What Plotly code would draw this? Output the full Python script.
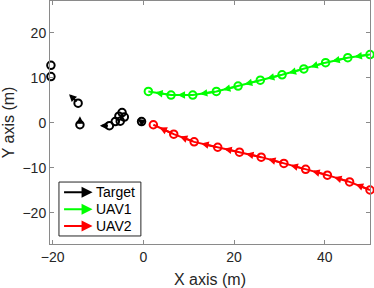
import plotly.graph_objects as go

# ---- data ----
target_x = [-20.4, -20.4, -14.4, -14.0, -7.5, -6.2, -5.4, -4.7, -4.2, -5.1, -0.4]
target_y = [12.8, 10.3, 4.4, -0.4, -0.6, 0.3, 1.5, 2.3, 1.3, 0.4, 0.3]
target_u = [0, 0, -2.0, 0, -2.1, 0, 0, 0, 0, 0, -0.9]
target_v = [0, 0, 2.0, 1.9, 0, 0, 0, 0, 0, 0, 0.6]

uav1_x = [50, 45.1, 40.2, 35.4, 30.6, 25.8, 20.9, 16.1, 10.9, 6.1, 1.1]
uav1_y = [15.2, 14.5, 13.4, 12.0, 10.7, 9.5, 8.2, 7.0, 6.2, 6.2, 7.0]

uav2_x = [50, 45.5, 40.6, 35.8, 31.0, 26.0, 21.2, 16.4, 11.2, 6.7, 2.2]
uav2_y = [-14.9, -13.1, -11.6, -10.3, -9.0, -7.6, -6.5, -5.4, -4.2, -2.5, -0.4]

legend_names = ["Target", "UAV1", "UAV2"]
colors = ["#000000", "#00ff00", "#ff0000"]

x_ticks = [-20, 0, 20, 40]
y_ticks = [-20, -10, 0, 10, 20]

FONT = "Liberation Sans, Arial, Helvetica, sans-serif"
ARROW_FRAC = 0.7

fig = go.Figure()
annotations = []

def add_arrow(x0, y0, x1, y1, color):
    annotations.append(dict(
        x=x1, y=y1, ax=x0, ay=y0, xref="x", yref="y", axref="x", ayref="y",
        text="", showarrow=True, arrowhead=2, arrowsize=0.75, arrowwidth=2,
        arrowcolor=color, standoff=0, startstandoff=0))

# UAV paths (line + open circles) and arrows toward next waypoint
for xs, ys, c in [(uav1_x, uav1_y, colors[1]), (uav2_x, uav2_y, colors[2])]:
    fig.add_trace(go.Scatter(x=xs, y=ys, mode="lines+markers",
                             line=dict(color=c, width=2),
                             marker=dict(symbol="circle-open", size=7.5, color=c,
                                         line=dict(width=2, color=c)),
                             showlegend=False, cliponaxis=False, hoverinfo="skip"))
    for i in range(len(xs) - 1):
        x1 = xs[i] + ARROW_FRAC * (xs[i + 1] - xs[i])
        y1 = ys[i] + ARROW_FRAC * (ys[i + 1] - ys[i])
        add_arrow(xs[i], ys[i], x1, y1, c)

# Target positions with velocity arrows
fig.add_trace(go.Scatter(x=target_x, y=target_y, mode="markers",
                         marker=dict(symbol="circle-open", size=7.5, color="#000",
                                     line=dict(width=2, color="#000")),
                         showlegend=False, cliponaxis=False, hoverinfo="skip"))
for x, y, u, v in zip(target_x, target_y, target_u, target_v):
    if u != 0 or v != 0:
        add_arrow(x, y, x + u, y + v, "#000000")

# manual legend with arrows
leg_y = [0.213, 0.143, 0.074]
for name, c, ly in zip(legend_names, colors, leg_y):
    annotations.append(dict(
        x=0.133, y=ly, xref="paper", yref="paper", axref="pixel", ayref="pixel",
        ax=-30, ay=0, text="", showarrow=True, arrowhead=2, arrowsize=1.1,
        arrowwidth=2, arrowcolor=c, standoff=0))
    annotations.append(dict(
        x=0.138, y=ly, xref="paper", yref="paper", text=name, showarrow=False,
        xanchor="left", yanchor="middle", font=dict(size=14, color="#000", family=FONT)))

shapes = [dict(type="rect", xref="paper", yref="paper", x0=0.028, x1=0.284,
               y0=0.033, y1=0.255, line=dict(color="#262626", width=1),
               fillcolor="white", layer="below")]

axis_common = dict(showgrid=False, zeroline=False, showline=True, mirror="ticks",
                   linecolor="#8a8a8a", linewidth=1, ticks="inside", ticklen=4,
                   tickcolor="#8a8a8a", tickfont=dict(size=14, color="#262626", family=FONT))

fig.update_layout(
    width=374, height=288,
    margin=dict(l=50, r=4, t=1, b=44, autoexpand=False),
    paper_bgcolor="white", plot_bgcolor="white",
    xaxis=dict(range=[-20.6, 50], tickvals=x_ticks,
               title=dict(text="X axis (m)", font=dict(size=16, color="#262626", family=FONT), standoff=12),
               **axis_common),
    yaxis=dict(range=[-26.9, 27.1], tickvals=y_ticks,
               title=dict(text="Y axis (m)", font=dict(size=16, color="#262626", family=FONT), standoff=4),
               **axis_common),
    annotations=annotations, shapes=shapes, showlegend=False,
)

fig.write_html("out.html", config={"displayModeBar": False, "staticPlot": True},
               post_script="document.body.style.margin='0';document.body.style.overflow='hidden';")
